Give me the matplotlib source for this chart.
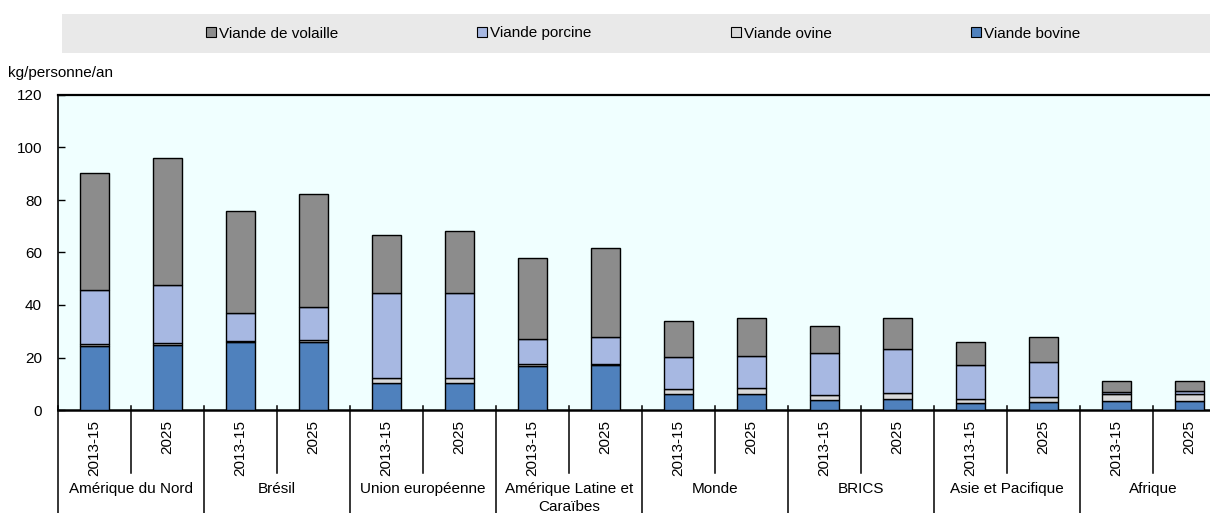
import matplotlib
matplotlib.use("Agg")
import matplotlib.pyplot as plt
import matplotlib.transforms as mtransforms
from matplotlib.patches import Rectangle, Patch

plt.rcParams['font.family'] = ['Liberation Sans', 'DejaVu Sans']

regions = ["Amérique du Nord", "Brésil", "Union européenne", "Amérique Latine et\nCaraïbes",
           "Monde", "BRICS", "Asie et Pacifique", "Afrique"]
periods = ["2013-15", "2025"]

beef    = [24.4, 24.8, 25.8, 26.0, 10.2, 10.1, 16.8, 17.0, 6.0, 6.2, 3.8, 4.3, 2.5, 2.9, 3.4, 3.4]
sheep   = [0.6, 0.6, 0.5, 0.5, 1.9, 2.1, 0.6, 0.7, 1.9, 2.1, 1.8, 2.0, 1.8, 2.2, 2.6, 2.7]
pork    = [20.7, 22.2, 10.8, 12.6, 32.3, 32.5, 9.5, 10.0, 12.4, 12.4, 16.2, 16.9, 12.7, 13.2, 0.9, 1.0]
poultry = [44.7, 48.5, 38.8, 43.2, 22.3, 23.5, 31.0, 34.0, 13.6, 14.5, 10.2, 11.7, 8.8, 9.4, 4.0, 3.9]

series = [("Viande bovine", beef, "#4F81BD"),
          ("Viande ovine", sheep, "#D9D9D9"),
          ("Viande porcine", pork, "#A7B8E2"),
          ("Viande de volaille", poultry, "#8C8C8C")]

W, H = 1210, 513
fig = plt.figure(figsize=(W / 100, H / 100), dpi=100)
ax = fig.add_axes([58 / W, (H - 410) / H, 73 * 16 / W, 315 / H])
ax.set_facecolor("#F0FFFF")

n = len(beef)
x = list(range(n))
bottom = [0.0] * n
for name, vals, col in series:
    ax.bar(x, vals, width=0.40, bottom=bottom, color=col, edgecolor="black", linewidth=1.0, zorder=3)
    bottom = [bo + v for bo, v in zip(bottom, vals)]

ax.set_xlim(-0.5, n - 0.5)
ax.set_ylim(0, 120)
ax.set_yticks([0, 20, 40, 60, 80, 100, 120])
ax.tick_params(axis='y', direction='in', length=5, width=1, labelsize=11, pad=11.5)
ax.set_xticks(x)
ax.set_xticklabels([periods[i % 2] for i in x], rotation=90, fontsize=11)
ax.tick_params(axis='x', length=0, pad=7)

ax.spines["right"].set_visible(False)
ax.spines["top"].set_linewidth(1.6)
ax.spines["bottom"].set_linewidth(1.8)
ax.spines["left"].set_linewidth(1.2)

trans = mtransforms.blended_transform_factory(ax.transData, ax.transAxes)
for k in range(n + 1):
    xs = k - 0.5
    if k % 2 == 0:
        ax.plot([xs, xs], [0.013, -0.33], color="black", lw=1.1, transform=trans, clip_on=False)
    else:
        ax.plot([xs, xs], [0.013, -0.2], color="black", lw=1.1, transform=trans, clip_on=False)

for g, name in enumerate(regions):
    ax.text(2 * g + 0.5, -0.228, name, transform=trans, ha="center", va="top",
            fontsize=11, linespacing=1.35, clip_on=False)

fig.text(8 / W, (H - 73) / H, "kg/personne/an", fontsize=11, ha="left", va="center")

# legend band
fig.patches.append(Rectangle((62 / W, (H - 53) / H), (W - 62) / W, 39 / H,
                             transform=fig.transFigure, facecolor="#E9E9E9", edgecolor="none", zorder=0))
order = ["Viande de volaille", "Viande porcine", "Viande ovine", "Viande bovine"]
col_of = {nm: c for nm, _, c in series}
leg_handles = [Patch(facecolor=col_of[nm], edgecolor="black", linewidth=0.8) for nm in order]
fig.legend(leg_handles, order, loc="center", bbox_to_anchor=(643 / W, (H - 33.5) / H), ncol=4,
           frameon=False, fontsize=11, handlelength=0.65, handleheight=0.65,
           handletextpad=0.2, columnspacing=9.1)

fig.savefig("out.png", dpi=100)
